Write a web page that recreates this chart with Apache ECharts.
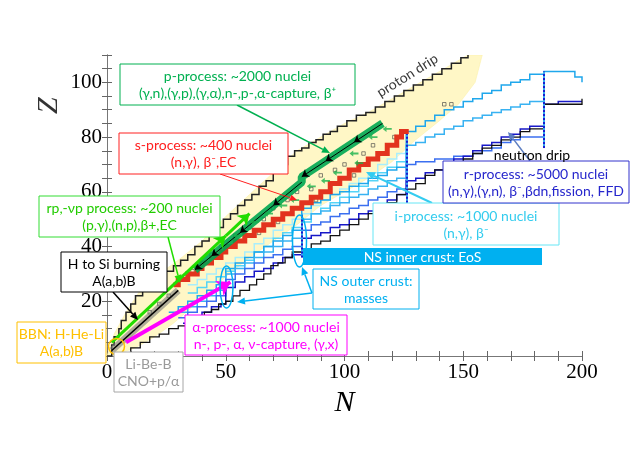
<!DOCTYPE html>
<html><head><meta charset="utf-8">
<script src="https://cdn.jsdelivr.net/npm/echarts@6/dist/echarts.min.js"></script>
<style>html,body{margin:0;padding:0;background:#fff}#c{width:643px;height:455px}</style>
</head><body><div id="c"></div>
<script>
// ---------- data (N, Z) ----------
const xLabelTicks = [0, 50, 100, 150, 200];
const yLabelTicks = [20, 40, 60, 80, 100];

const knownUpper = [[0,0],[3,8],[8,16],[14,24],[22,30],[30,35],[40,42],[50,51],[60,59],[70,67],[80,75],[90,80],[100,85],[110,89],[120,94],[130,99],[140,104],[150,109],[152,110],[158,110]];
const knownLower = [[2,0],[12,3],[20,7],[28,12],[36,18],[44,24],[50,29],[60,36],[70,42],[80,48],[90,55],[100,60],[110,65],[120,71],[130,79],[140,86],[148,92],[155,100],[158,110]];

const protonDrip = [[0,0],[2,4],[3,7],[5,10],[6,13],[8,16],[10,19],[12,22],[15,25],[18,27],[21,29],[24,31],[28,33],[31,35],[34,37],[37,40],[40,42],[43,45],[46,47],[49,50],[52,52],[55,55],[58,57],[61,59],[64,62],[67,64],[70,67],[73,70],[76,73],[79,75],[82,76],[85,78],[88,79],[91,81],[94,82],[97,84],[101,86],[105,88],[109,89],[113,91],[117,93],[121,95],[125,97],[129,99],[133,101],[137,103],[141,105],[145,107],[149,109],[152,110]];
const neutronDrip = [[6,1],[10,3],[14,5],[18,7],[22,8],[26,10],[30,11],[34,13],[38,14],[41,16],[44,17],[47,19],[50,20],[53,22],[56,24],[60,26],[63,28],[66,30],[69,33],[72,34],[75,36],[78,38],[82,39],[86,41],[90,42],[94,44],[98,46],[102,48],[106,50],[110,52],[114,54],[118,56],[122,59],[126,61],[130,63],[134,66],[138,68],[142,69],[146,71],[150,72],[154,74],[158,76],[162,77],[166,79],[170,80],[174,82],[178,83],[184,83],[184,92],[200,94]];

const iLine1 = [[34,26],[38,28],[42,30],[46,32],[50,34],[54,36],[58,38],[62,41],[66,43],[70,46],[74,48],[78,50],[82,52],[86,55],[90,57],[94,59],[98,61],[102,63],[106,65],[110,67],[114,70],[118,72],[122,74],[126,77]];
const iLine2 = [[34,23],[38,25],[42,27],[46,29],[50,31],[54,33],[58,35],[62,38],[66,40],[70,43],[74,45],[78,47],[82,49],[86,52],[90,54],[94,56],[98,58],[102,60],[106,62],[110,64],[114,67],[118,69],[122,71],[126,73]];
const rLine1 = [[26,16],[30,18],[34,20],[38,22],[42,24],[46,26],[50,28],[50,32],[54,34],[58,36],[62,38],[66,40],[70,42],[74,44],[78,46],[82,47],[82,54],[86,56],[90,57],[94,59],[98,60],[102,62],[106,63],[110,65],[114,66],[118,68],[122,69],[126,71],[126,82],[130,84],[134,86],[138,88],[142,90],[146,91],[150,93],[154,94],[158,96],[162,97],[166,99],[170,100],[174,101],[178,103],[184,104],[195,104],[197,102],[200,100]];
const rLine2 = [[30,16],[34,18],[38,20],[42,22],[46,24],[50,25],[50,30],[54,32],[58,34],[62,36],[66,38],[70,40],[74,42],[78,43],[82,44],[82,50],[86,52],[90,53],[94,55],[98,56],[102,58],[106,59],[110,61],[114,62],[118,64],[122,65],[126,66],[126,77],[130,78],[134,80],[138,81],[142,83],[146,84],[150,86],[154,87],[158,88],[162,89],[166,90],[170,91],[174,92],[178,93],[184,94]];
const rLine3 = [[30,14],[34,16],[38,18],[42,20],[46,22],[50,23],[50,28],[54,30],[58,32],[62,34],[66,36],[70,37],[74,39],[78,40],[82,41],[82,46],[86,48],[90,49],[94,51],[98,52],[102,54],[106,55],[110,57],[114,58],[118,60],[122,61],[126,62],[126,70],[130,71],[134,71],[138,72],[142,72],[146,73],[150,73],[154,74],[158,75],[162,76],[166,78],[170,79],[174,80],[178,80],[184,80]];
const rLine4 = [[32,12],[36,14],[40,16],[44,18],[48,19],[50,20],[50,25],[54,27],[58,29],[62,31],[66,32],[70,34],[74,36],[78,37],[82,38],[82,43],[86,44],[90,45],[94,47],[98,48],[102,50],[106,52],[110,53],[114,55],[118,57],[122,59],[126,60],[126,64],[130,65],[134,67],[138,68],[142,70],[146,72],[150,73],[154,75],[158,77],[162,78],[166,80],[170,81],[174,83],[178,84],[184,85],[184,92],[190,93],[200,93]];
const magicVerticals = [[[82,36],[82,52]],[[126,56],[126,82]],[[184,76],[184,104]]];

const sPath = [[28,26],[30,26],[30,28],[34,28],[34,30],[38,30],[38,32],[40,32],[40,34],[44,34],[44,36],[48,36],[48,38],[50,38],[50,40],[54,40],[54,42],[58,42],[58,44],[62,44],[62,46],[66,46],[66,48],[70,48],[70,50],[74,50],[74,52],[78,52],[78,54],[82,54],[82,56],[86,56],[86,58],[90,58],[90,60],[94,60],[94,63],[98,63],[98,65],[102,65],[102,68],[106,68],[106,70],[110,70],[110,72],[114,72],[114,74],[118,74],[118,77],[122,77],[122,80],[124,80],[124,82],[126,82],[126,83]];
const pPath = [[116,85],[82,65.5],[82,63.5],[37,31.5]];
const pArrowSegs = [[[116,85],[104,78.1]],[[104,78.1],[92,71.2]],[[92,71.2],[82,65.5]],[[82,63.5],[70,55]],[[70,55],[56,45]],[[56,45],[44,36.5]],[[44,36.5],[37,31.5]]];
const pSmallArrows = [[118,83],[112,80],[104,74],[106,70.5],[97,67],[92,64],[86,62],[79,57],[74,55],[68,52],[62,49],[55,44]];
const openSquares = [[142,92],[145,92],[121,80],[112,77],[108,74],[100,70],[96,68],[90,66],[86,61],[80,60],[76,57],[70,54],[66,50],[60,47],[54,44],[48,40],[44,37],[40,34],[36,31],[32,28],[64,45],[72,49],[88,57],[104,66],[116,74],[26,22],[22,19],[18,16]];
const rpSegs = [[[2,5],[50,43.9]],[[50,43.9],[60,52]]];
const alphaSeg = [[8,5],[52,27]];
const hSiSeg = [[2,2],[30,24]];
// rotated text anchors, in (N, Z)
const protonDripLabelAt = [126.5, 102.5];
const zTitleAt = [-24.5, 91.5];

// ---------- chart ----------
const chart = echarts.init(document.getElementById('c'));
const serif = 'Liberation Serif';
const font = '"Lato","Open Sans",sans-serif';

function stepLine(data, color, width, z) {
  return {type:'line', data, step:'end', symbol:'none', showSymbol:false, silent:true, z:z||2,
          lineStyle:{color, width, cap:'butt', join:'miter'}};
}
function segs(list) { return list.map(c => ({coords:c})); }

function arrow(x1,y1,x2,y2,color,w,h){
  const a=Math.atan2(y2-y1,x2-x1), hl=h||8, hw=hl*0.45;
  const bx=x2-hl*Math.cos(a), by=y2-hl*Math.sin(a);
  const px=-Math.sin(a)*hw, py=Math.cos(a)*hw;
  return [{type:'line',shape:{x1,y1,x2:bx,y2:by},style:{stroke:color,lineWidth:w},z:100},
          {type:'polygon',shape:{points:[[x2,y2],[bx+px,by+py],[bx-px,by-py]]},style:{fill:color},z:100}];
}
function label(x,y,text,color,fnt){
  return {type:'text',x:x,y:y,z:102,style:{text:text,fill:color,font:fnt,textAlign:'center',textVerticalAlign:'middle',align:'center',verticalAlign:'middle',lineHeight:17}};
}
function box(x1,y1,x2,y2,stroke,color,text,fill){
  return [{type:'rect',shape:{x:x1,y:y1,width:x2-x1,height:y2-y1},style:{fill:fill||'#fff',stroke:stroke,lineWidth:1},z:101},
          label((x1+x2)/2,(y1+y2)/2+0.5,text,color,'14px '+font)];
}
function textPoint(at, text, rot, style, z) {
  return {type:'scatter', data:[at], symbolSize:0, silent:true, clip:false, z:z||20,
          label:Object.assign({show:true, position:'inside', rotate:rot, formatter:text, color:'#000'}, style)};
}

const graphic = [].concat(
  box(120,64,355,105,'#00b050','#00b050','p-process: ~2000 nuclei\n(γ,n),(γ,p),(γ,α),n-,p-,α-capture, β⁺'),
  arrow(237,105,330,153,'#00b050',1.5,8),
  box(119,133,288,174,'#ff2020','#ff2020','s-process: ~400 nuclei\n(n,γ), β⁻,EC'),
  arrow(220,174,297,200,'#ff2020',1,7),
  box(39,196,220,237,'#33dd33','#22cc00','rp,-νp process: ~200 nuclei\n(p,γ),(n,p),β+,EC'),
  arrow(168,237,180,283,'#22dd00',1.5,8),
  box(61,252,167,292,'#000','#000','H to Si burning\nA(a,b)B'),
  arrow(113,292,138,320,'#000',1.5,8),
  box(17,322,106,363,'#ffc000','#ffc000','BBN: H-He-Li\nA(a,b)B'),
  [{type:'circle',shape:{cx:116.5,cy:346.5,r:8},style:{fill:'none',stroke:'#ffc000',lineWidth:1.5},z:100}],
  box(114,352,183,392,'#a6a6a6','#9a9a9a','Li-Be-B\nCNO+p/α'),
  box(185,315,347,355,'#ff00ff','#ff00ff','α-process: ~1000 nuclei\nn-, p-, α, ν-capture, (γ,x)'),
  [{type:'rect',shape:{x:303,y:248,width:239,height:17},style:{fill:'#00b0f0'},z:101},
   label(422.5,257,'NS inner crust: EoS','#fff','14px '+font)],
  box(313,269,419,309,'#00b0f0','#00b0f0','NS outer crust:\nmasses'),
  arrow(312,293,237,302,'#00b0f0',1.5,8),
  arrow(312,293,302,267,'#00b0f0',1.5,8),
  [{type:'ellipse',shape:{cx:226.5,cy:287,rx:6.5,ry:21},style:{fill:'none',stroke:'#00b0f0',lineWidth:1.5},z:100},
   {type:'ellipse',shape:{cx:299.5,cy:241,rx:7,ry:26},style:{fill:'none',stroke:'#00b0f0',lineWidth:1.5},z:100}],
  box(373,203,559,245,'#66e6f5','#33ccee','i-process: ~1000 nuclei\n(n,γ), β⁻'),
  arrow(432,203,366,172,'#33ccf0',2,9),
  box(443,161,629,203,'#3333cc','#2626cc','r-process: ~5000 nuclei\n(n,γ),(γ,n), β⁻,βdn,fission, FFD'),
  arrow(530,161,508,132,'#5b7cc0',1.5,8),
  [label(532,155,'neutron drip','#000','14px '+font)]
);

const axisCommon = {axisLine:{show:true,lineStyle:{color:'#777'}}, axisTick:{show:true,inside:true,length:5,lineStyle:{color:'#666',width:1}}, splitLine:{show:false}};

chart.setOption({
  animation:false,
  grid:{left:107,right:61,top:55,bottom:99},
  xAxis:[
    Object.assign({type:'value',min:0,max:200,interval:10,position:'bottom',
      name:'N',nameLocation:'middle',nameGap:28,
      nameTextStyle:{fontFamily:serif,fontStyle:'italic',fontSize:30,color:'#000'},
      axisLabel:{margin:6,fontFamily:serif,fontSize:21,color:'#000',
        formatter:v=>xLabelTicks.indexOf(v)>=0?String(v):''}},axisCommon),
    Object.assign({type:'value',min:0,max:200,interval:10,position:'top',axisLabel:{show:false}},axisCommon)
  ],
  yAxis:[
    Object.assign({type:'value',min:0,max:110,interval:5,position:'left',
      axisLabel:{margin:5,fontFamily:serif,fontSize:21,color:'#000',
        formatter:v=>yLabelTicks.indexOf(v)>=0?String(v):''}},axisCommon),
    Object.assign({type:'value',min:0,max:110,interval:5,position:'right',axisLabel:{show:false}},axisCommon)
  ],
  series:[
    {type:'custom', data:[0], silent:true, z:1, clip:true,
     renderItem:(params, api)=>{
       const pts = knownUpper.concat(knownLower.slice().reverse()).map(p=>api.coord(p));
       return {type:'polygon', shape:{points:pts}, style:{fill:'#fff7c6', stroke:'#fbeea0', lineWidth:0.5}};
     }},
    stepLine(iLine1,'#a8eefc',1.5,3),
    stepLine(iLine2,'#55d4f7',1.5,3),
    stepLine(rLine1,'#1fa7ec',1.5,3),
    stepLine(rLine2,'#38b2f2',1.5,3),
    stepLine(rLine3,'#3b6ff0',1.5,3),
    stepLine(rLine4,'#1818c8',1.5,3),
    stepLine(protonDrip,'#222',1.5,4),
    stepLine(neutronDrip,'#111',1.3,4),
    {type:'lines',coordinateSystem:'cartesian2d',silent:true,z:5,data:segs(magicVerticals),
     lineStyle:{color:'#33aaee',width:2,opacity:1}},
    {type:'lines',coordinateSystem:'cartesian2d',silent:true,z:5,data:segs(magicVerticals),
     lineStyle:{color:'#1a1ad0',width:2,type:'dotted',opacity:1}},
    {type:'scatter',data:openSquares,silent:true,z:5,symbol:'rect',symbolSize:3.5,
     itemStyle:{color:'rgba(0,0,0,0)',borderColor:'#444',borderWidth:0.8}},
    stepLine(sPath,'#e2331e',5,6),
    {type:'lines',coordinateSystem:'cartesian2d',silent:true,z:6,data:[{coords:hSiSeg}],
     lineStyle:{color:'#7a7a7a',width:7,opacity:0.6}},
    {type:'lines',coordinateSystem:'cartesian2d',silent:true,z:7,data:[{coords:hSiSeg}],
     lineStyle:{color:'#000',width:1.5,opacity:1}},
    {type:'line',data:pPath,symbol:'none',silent:true,z:7,lineStyle:{color:'#00a651',width:8,opacity:0.9}},
    {type:'lines',coordinateSystem:'cartesian2d',silent:true,z:8,data:segs(pArrowSegs),
     symbol:['none','arrow'],symbolSize:7,lineStyle:{color:'#000',width:1,opacity:1}},
    {type:'scatter',data:pSmallArrows,silent:true,z:8,
     symbol:'path://M0,5L5,0L5,3.5L12,3.5L12,6.5L5,6.5L5,10Z',symbolSize:[9,6],
     itemStyle:{color:'#19b24b'}},
    {type:'lines',coordinateSystem:'cartesian2d',silent:true,z:9,data:segs(rpSegs),
     symbol:['none','arrow'],symbolSize:11,lineStyle:{color:'#22dd00',width:3,opacity:1}},
    {type:'lines',coordinateSystem:'cartesian2d',silent:true,z:9,data:[{coords:alphaSeg}],
     symbol:['none','arrow'],symbolSize:13,lineStyle:{color:'#ff00ff',width:4,opacity:1}},
    textPoint(protonDripLabelAt,'proton drip',32,{fontFamily:'Lato',fontSize:14}),
    textPoint(zTitleAt,'Z',90,{fontFamily:serif,fontStyle:'italic',fontSize:30})
  ],
  graphic: graphic
});
</script>
</body></html>
